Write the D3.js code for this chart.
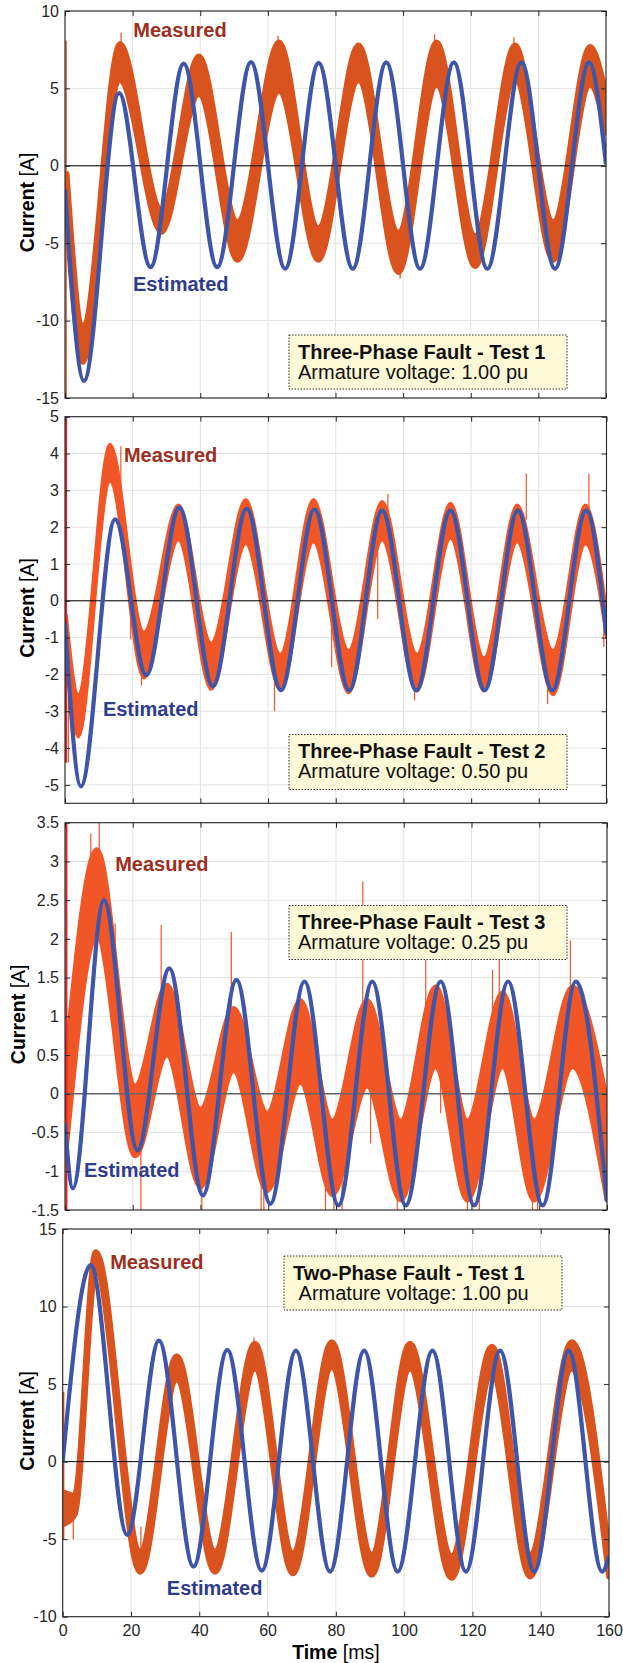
<!DOCTYPE html>
<html>
<head>
<meta charset="utf-8">
<script src="https://cdn.jsdelivr.net/npm/d3@7"></script>
<style>
  body { margin: 0; background: #fff; }
  svg { display: block; font-family: "Liberation Sans", Arial, Helvetica, sans-serif; }
</style>
</head>
<body>
<svg id="chart" width="623" height="1663"></svg>
<script>
// ---- data (time in ms, current in A) ----

// x axis
const timeTicks = [0, 20, 40, 60, 80, 100, 120, 140, 160]

// panel 1: three-phase fault, test 1
const p1Ticks = [-15, -10, -5, 0, 5, 10]
const p1EstT = [0, 5.6, 16.0, 25.3, 35.1, 45.0, 55.0, 65.1, 75.0, 85.1, 95.0, 105.0, 115.0, 124.9, 135.0, 144.9, 155.0, 160]
const p1EstV = [-1.5, -13.9, 4.7, -6.55, 6.6, -6.55, 6.7, -6.65, 6.65, -6.65, 6.68, -6.65, 6.68, -6.65, 6.68, -6.65, 6.68, 0.1]
const p1MeasT = [0.6, 5.3, 16.2, 28.5, 39.6, 51.0, 63.3, 74.9, 86.8, 98.6, 109.9, 121.3, 133.1, 144.4, 155.3, 160]
const p1MeasLo = [-4.0, -12.7, 5.5, -4.3, 4.6, -6.1, 4.8, -6.1, 5.5, -6.9, 5.2, -6.5, 5.6, -6.1, 5.2, 2.1]
const p1MeasHi = [-0.5, -10.3, 7.9, -2.8, 7.1, -3.6, 8.0, -4.0, 7.8, -4.3, 8.0, -4.5, 7.8, -3.6, 7.7, 4.7]
const p1Spikes = [[16.6, 7.0, 8.6], [63.0, 7.0, 8.4], [99.1, -7.3, -6.0], [109.3, 7.5, 8.5], [132.8, 7.3, 8.3]]
const p1Onset = [0.3, -15, 8.1]

// panel 2: three-phase fault, test 2
const p2Ticks = [-5, -4, -3, -2, -1, 0, 1, 2, 3, 4, 5]
const p2EstT = [0, 4.7, 14.8, 24.0, 33.8, 43.7, 53.7, 63.8, 73.7, 84.0, 93.7, 103.8, 113.9, 124.0, 133.8, 144.0, 154.0, 160]
const p2EstV = [-0.6, -5.04, 2.21, -2.02, 2.53, -2.32, 2.5, -2.43, 2.48, -2.43, 2.45, -2.43, 2.45, -2.43, 2.45, -2.43, 2.45, -0.93]
const p2MeasT = [0.4, 3.9, 13.3, 23.3, 33.5, 43.2, 53.4, 63.6, 73.4, 83.8, 93.7, 104.0, 113.9, 123.8, 133.6, 144.2, 153.8, 160]
const p2MeasLo = [-1.6, -3.7, 3.25, -2.1, 1.65, -2.4, 1.55, -2.4, 1.6, -2.5, 1.65, -2.45, 1.7, -2.45, 1.6, -2.55, 1.55, -1.0]
const p2MeasHi = [-0.4, -2.55, 4.25, -0.85, 2.6, -1.15, 2.75, -1.45, 2.75, -1.35, 2.7, -1.45, 2.65, -1.55, 2.6, -1.35, 2.6, -0.3]
const p2Spikes = [[1.0, -4.4, -2.5], [16.5, 3.0, 4.2], [19.4, -1.05, 0.5], [22.6, -2.3, -1.2], [61.9, -3.0, -2.0], [78.8, -1.8, -0.4],
                  [92.4, -0.5, 1.5], [95.4, 1.9, 2.9], [103.3, -2.7, -2.0], [136.3, 2.2, 3.46], [142.6, -2.8, -2.0], [154.8, 2.2, 3.46], [159.2, -1.25, -0.5]]
const p2Onset = [0.3, -4.4, 5]

// panel 3: three-phase fault, test 3
const p3Ticks = [-1.5, -1, -0.5, 0, 0.5, 1, 1.5, 2, 2.5, 3, 3.5]
const p3EstT = [0, 2.3, 11.5, 21.4, 30.8, 40.7, 50.6, 60.6, 70.7, 80.7, 90.7, 100.6, 110.9, 120.8, 130.8, 141.0, 150.8, 160]
const p3EstV = [-0.38, -1.22, 2.5, -0.73, 1.62, -1.31, 1.47, -1.42, 1.45, -1.44, 1.45, -1.44, 1.45, -1.44, 1.45, -1.44, 1.45, -1.39]
const p3MeasT = [0.4, 9.4, 20.7, 30.1, 40.0, 49.8, 59.7, 69.5, 78.9, 89.2, 99.1, 109.4, 118.8, 129.2, 138.5, 149.8, 160]
const p3MeasLo = [-0.7, 2.05, -0.8, 0.5, -1.2, 0.3, -1.25, 0.15, -1.3, 0.1, -1.37, 0.35, -1.37, 0.35, -1.37, 0.35, -1.37]
const p3MeasHi = [0.5, 3.15, 0.1, 1.4, -0.2, 1.1, -0.25, 1.2, -0.35, 1.2, -0.35, 1.38, -0.35, 1.3, -0.35, 1.38, -0.1]
const p3Spikes = [[7.6, 2.0, 3.36], [10.1, 2.6, 3.5], [14.8, 1.4, 2.2], [22.4, -1.5, -0.6], [28.4, 1.0, 2.18], [40.4, -1.5, -1.0],
                  [49.1, 0.8, 2.09], [57.9, -1.5, -1.0], [58.7, -1.5, -1.0], [76.9, -1.5, -0.9], [79.4, -1.5, -1.1], [81.8, -1.5, -0.8],
                  [87.9, 1.0, 2.74], [90.2, -0.64, 0.3], [98.1, -1.5, -1.2], [106.5, 0.8, 1.73], [110.9, -0.25, 0.5], [118.8, -1.5, -1.2],
                  [122.3, -1.5, -0.9], [126.2, 0.9, 1.6], [128.2, 0.9, 1.73], [138.0, -1.5, -1.2], [139.5, -1.5, -1.2], [149.2, 1.2, 1.98]]
const p3Onset = [0.4, -1.5, 3.5]

// panel 4: two-phase fault, test 1
const p4Ticks = [-10, -5, 0, 5, 10, 15]
const p4EstT = [0, 8.2, 18.9, 28.2, 38.3, 48.2, 58.3, 68.3, 78.3, 88.3, 98.1, 108.3, 118.1, 128.1, 138.1, 148.2, 158.0, 160]
const p4EstV = [0, 12.68, -4.73, 7.8, -6.77, 7.2, -7.03, 7.16, -7.09, 7.16, -7.09, 7.16, -7.09, 7.16, -7.09, 7.16, -7.09, -6.1]
const p4MeasT = [0.5, 3.5, 9.7, 22.7, 33.4, 44.6, 56.3, 67.4, 78.8, 90.5, 101.7, 113.9, 125.7, 136.9, 149.1, 160]
const p4MeasLo = [-4.0, -3.4, 12.3, -7.1, 5.3, -7.1, 6.0, -7.2, 6.1, -7.3, 6.0, -7.5, 5.7, -7.4, 6.0, -7.4]
const p4MeasHi = [-2.0, -2.2, 13.5, -5.8, 6.8, -5.8, 7.6, -5.9, 7.7, -6.0, 7.6, -6.1, 7.4, -6.0, 7.7, -6.1]
const p4Spikes = [[3.1, -5.0, -3.0], [22.9, -6.5, -4.2], [56.0, 6.0, 8.0]]
const p4Onset = [0.2, -5.0, 4.5]

const titles = ['Three-Phase Fault - Test 1', 'Three-Phase Fault - Test 2', 'Three-Phase Fault - Test 3', 'Two-Phase Fault - Test 1']
const subtitles = ['Armature voltage: 1.00 pu', 'Armature voltage: 0.50 pu', 'Armature voltage: 0.25 pu', '\u00a0Armature voltage: 1.00 pu']

// ---- layout ----
const orange = '#d9531f'
const orangeBright = '#f15627'
const blue = '#3e55a8'

const panels = [
    { est: [p1EstT, p1EstV], meas: [p1MeasT, p1MeasLo, p1MeasHi], spikes: p1Spikes, onset: p1Onset,
      yDomain: [-15, 10], yTicks: p1Ticks, title: titles[0], sub: subtitles[0],
      area: { left: 65, right: 606, top: 11, bottom: 398 },
      measColor: orange, onsetColor: orange, onsetWidth: 1.5, band: 5, zero: '#000', labelX: 26.5,
      measLabel: [20.2, 8.33], estLabel: [20.1, -8.1], note: { x: 289, y: 335, w: 278, h: 54 } },
    { est: [p2EstT, p2EstV], meas: [p2MeasT, p2MeasLo, p2MeasHi], spikes: p2Spikes, onset: p2Onset,
      yDomain: [-5.5, 5], yTicks: p2Ticks, title: titles[1], sub: subtitles[1],
      area: { left: 65, right: 606.5, top: 416.7, bottom: 803.3 },
      measColor: orangeBright, onsetColor: '#ec2127', onsetWidth: 2.2, band: 3, zero: '#000', labelX: 26.5,
      measLabel: [17.4, 3.78], estLabel: [11.2, -3.14], note: { x: 289, y: 734.5, w: 278, h: 55 } },
    { est: [p3EstT, p3EstV], meas: [p3MeasT, p3MeasLo, p3MeasHi], spikes: p3Spikes, onset: p3Onset,
      yDomain: [-1.5, 3.5], yTicks: p3Ticks, title: titles[2], sub: subtitles[2],
      area: { left: 65, right: 607, top: 822.7, bottom: 1210 },
      measColor: orangeBright, onsetColor: '#ec2127', onsetWidth: 2.2, band: 5, zero: '#666', labelX: 18,
      measLabel: [14.8, 2.87], estLabel: [5.6, -1.08], note: { x: 289, y: 905.5, w: 278, h: 54 } },
    { est: [p4EstT, p4EstV], meas: [p4MeasT, p4MeasLo, p4MeasHi], spikes: p4Spikes, onset: p4Onset,
      yDomain: [-10, 15], yTicks: p4Ticks, title: titles[3], sub: subtitles[3],
      area: { left: 62.7, right: 609, top: 1229, bottom: 1616.7 },
      measColor: orange, onsetColor: orange, onsetWidth: 2, band: 6, zero: '#000', labelX: 27,
      measLabel: [13.9, 12.4], estLabel: [30.5, -8.6], note: { x: 284, y: 1256, w: 278, h: 54 },
      xLabels: true }
]

const svg = d3.select('#chart')

function drawPanel(p, i) {
    const a = p.area
    const x = d3.scaleLinear().domain([0, 160]).range([a.left, a.right])
    const y = d3.scaleLinear().domain(p.yDomain).range([a.bottom, a.top])
    const g = svg.append('g')

    g.append('clipPath').attr('id', 'clip' + i)
        .append('rect')
        .attr('x', a.left).attr('y', a.top)
        .attr('width', a.right - a.left).attr('height', a.bottom - a.top)

    // grid
    g.selectAll('line.gy').data(p.yTicks).enter()
        .append('line').attr('class', 'gy')
        .attr('x1', a.left).attr('x2', a.right)
        .attr('y1', d => y(d)).attr('y2', d => y(d))
        .attr('stroke', '#e2e2e2').attr('stroke-width', 1)
    g.selectAll('line.gx').data(timeTicks).enter()
        .append('line').attr('class', 'gx')
        .attr('x1', d => x(d)).attr('x2', d => x(d))
        .attr('y1', a.top).attr('y2', a.bottom)
        .attr('stroke', '#e2e2e2').attr('stroke-width', 1)

    const plot = g.append('g').attr('clip-path', 'url(#clip' + i + ')')

    // measured: noisy band
    const mt = p.meas[0], lo = p.meas[1], hi = p.meas[2]
    const band = d3.area()
        .x(d => x(mt[d]))
        .y0(d => y(lo[d]))
        .y1(d => y(hi[d]))
        .curve(d3.curveMonotoneX)
    plot.append('path')
        .attr('d', band(d3.range(mt.length)))
        .attr('fill', p.measColor)
        .attr('stroke', p.measColor)
        .attr('stroke-width', p.band)
        .attr('stroke-linejoin', 'round')

    plot.selectAll('line.spike').data(p.spikes).enter()
        .append('line').attr('class', 'spike')
        .attr('x1', d => x(d[0])).attr('x2', d => x(d[0]))
        .attr('y1', d => y(d[1])).attr('y2', d => y(d[2]))
        .attr('stroke', p.measColor).attr('stroke-width', 1.2)

    plot.append('line')
        .attr('x1', x(p.onset[0])).attr('x2', x(p.onset[0]))
        .attr('y1', y(p.onset[1])).attr('y2', y(p.onset[2]))
        .attr('stroke', p.onsetColor).attr('stroke-width', p.onsetWidth)

    // zero line
    plot.append('line')
        .attr('x1', a.left).attr('x2', a.right)
        .attr('y1', y(0)).attr('y2', y(0))
        .attr('stroke', p.zero).attr('stroke-width', p.zero == '#000' ? 1 : 1.6)

    // estimated
    const et = p.est[0], ev = p.est[1]
    const line = d3.line()
        .x(d => x(et[d]))
        .y(d => y(ev[d]))
        .curve(d3.curveMonotoneX)
    plot.append('path')
        .attr('d', line(d3.range(et.length)))
        .attr('fill', 'none')
        .attr('stroke', blue)
        .attr('stroke-width', 4.2)
        .attr('stroke-linejoin', 'round')

    // axes (inward ticks on all sides, like a boxed matlab axes)
    const left = g.append('g').attr('transform', 'translate(' + a.left + ',0)')
        .call(d3.axisLeft(y).tickValues(p.yTicks).tickSizeInner(-5).tickSizeOuter(0)
            .tickPadding(6).tickFormat(d => String(d)))
    const right = g.append('g').attr('transform', 'translate(' + a.right + ',0)')
        .call(d3.axisRight(y).tickValues(p.yTicks).tickSizeInner(-5).tickSizeOuter(0).tickFormat(''))
    const top = g.append('g').attr('transform', 'translate(0,' + a.top + ')')
        .call(d3.axisTop(x).tickValues(timeTicks).tickSizeInner(-5).tickSizeOuter(0).tickFormat(''))
    const bottom = g.append('g').attr('transform', 'translate(0,' + a.bottom + ')')
        .call(d3.axisBottom(x).tickValues(timeTicks).tickSizeInner(-5).tickSizeOuter(0)
            .tickPadding(8).tickFormat(p.xLabels ? (d => String(d)) : ''))

    ;[left, right, top, bottom].forEach(ax => {
        ax.select('.domain').remove()
        ax.selectAll('line').attr('stroke', '#262626')
        ax.attr('font-family', null).attr('font-size', 16)
        ax.selectAll('text').attr('fill', '#262626')
    })

    g.append('rect')
        .attr('x', a.left).attr('y', a.top)
        .attr('width', a.right - a.left).attr('height', a.bottom - a.top)
        .attr('fill', 'none').attr('stroke', '#262626').attr('stroke-width', 1.1)

    // y label
    const yl = g.append('text')
        .attr('transform', 'translate(' + p.labelX + ',' + ((a.top + a.bottom) / 2 - 2) + ') rotate(-90)')
        .attr('text-anchor', 'middle')
        .attr('dominant-baseline', 'central')
        .attr('font-size', 19.5)
        .attr('fill', '#000')
    yl.append('tspan').attr('font-weight', 'bold').text('Current')
    yl.append('tspan').text(' [A]')

    // curve labels
    g.append('text')
        .attr('x', x(p.measLabel[0])).attr('y', y(p.measLabel[1]))
        .attr('font-size', 20).attr('font-weight', 'bold')
        .attr('fill', '#9b2f22')
        .text('Measured')
    g.append('text')
        .attr('x', x(p.estLabel[0])).attr('y', y(p.estLabel[1]))
        .attr('font-size', 20).attr('font-weight', 'bold')
        .attr('fill', '#2f3b8c')
        .text('Estimated')

    // annotation box
    const n = p.note
    g.append('rect')
        .attr('x', n.x).attr('y', n.y).attr('width', n.w).attr('height', n.h)
        .attr('fill', '#fdf8d6')
        .attr('stroke', '#333').attr('stroke-width', 1)
        .attr('stroke-dasharray', '1.5,1.5')
    g.append('text')
        .attr('x', n.x + 9).attr('y', n.y + 23.5)
        .attr('font-size', 20).attr('font-weight', 'bold').attr('fill', '#111')
        .text(p.title)
    g.append('text')
        .attr('x', n.x + 9).attr('y', n.y + 43.5)
        .attr('font-size', 20).attr('fill', '#111')
        .text(p.sub)

    if (p.xLabels) {
        const xl = g.append('text')
            .attr('x', (a.left + a.right) / 2).attr('y', 1659)
            .attr('text-anchor', 'middle')
            .attr('font-size', 19.5).attr('fill', '#000')
        xl.append('tspan').attr('font-weight', 'bold').text('Time')
        xl.append('tspan').text(' [ms]')
    }
}

panels.forEach(drawPanel)
</script>
</body>
</html>
